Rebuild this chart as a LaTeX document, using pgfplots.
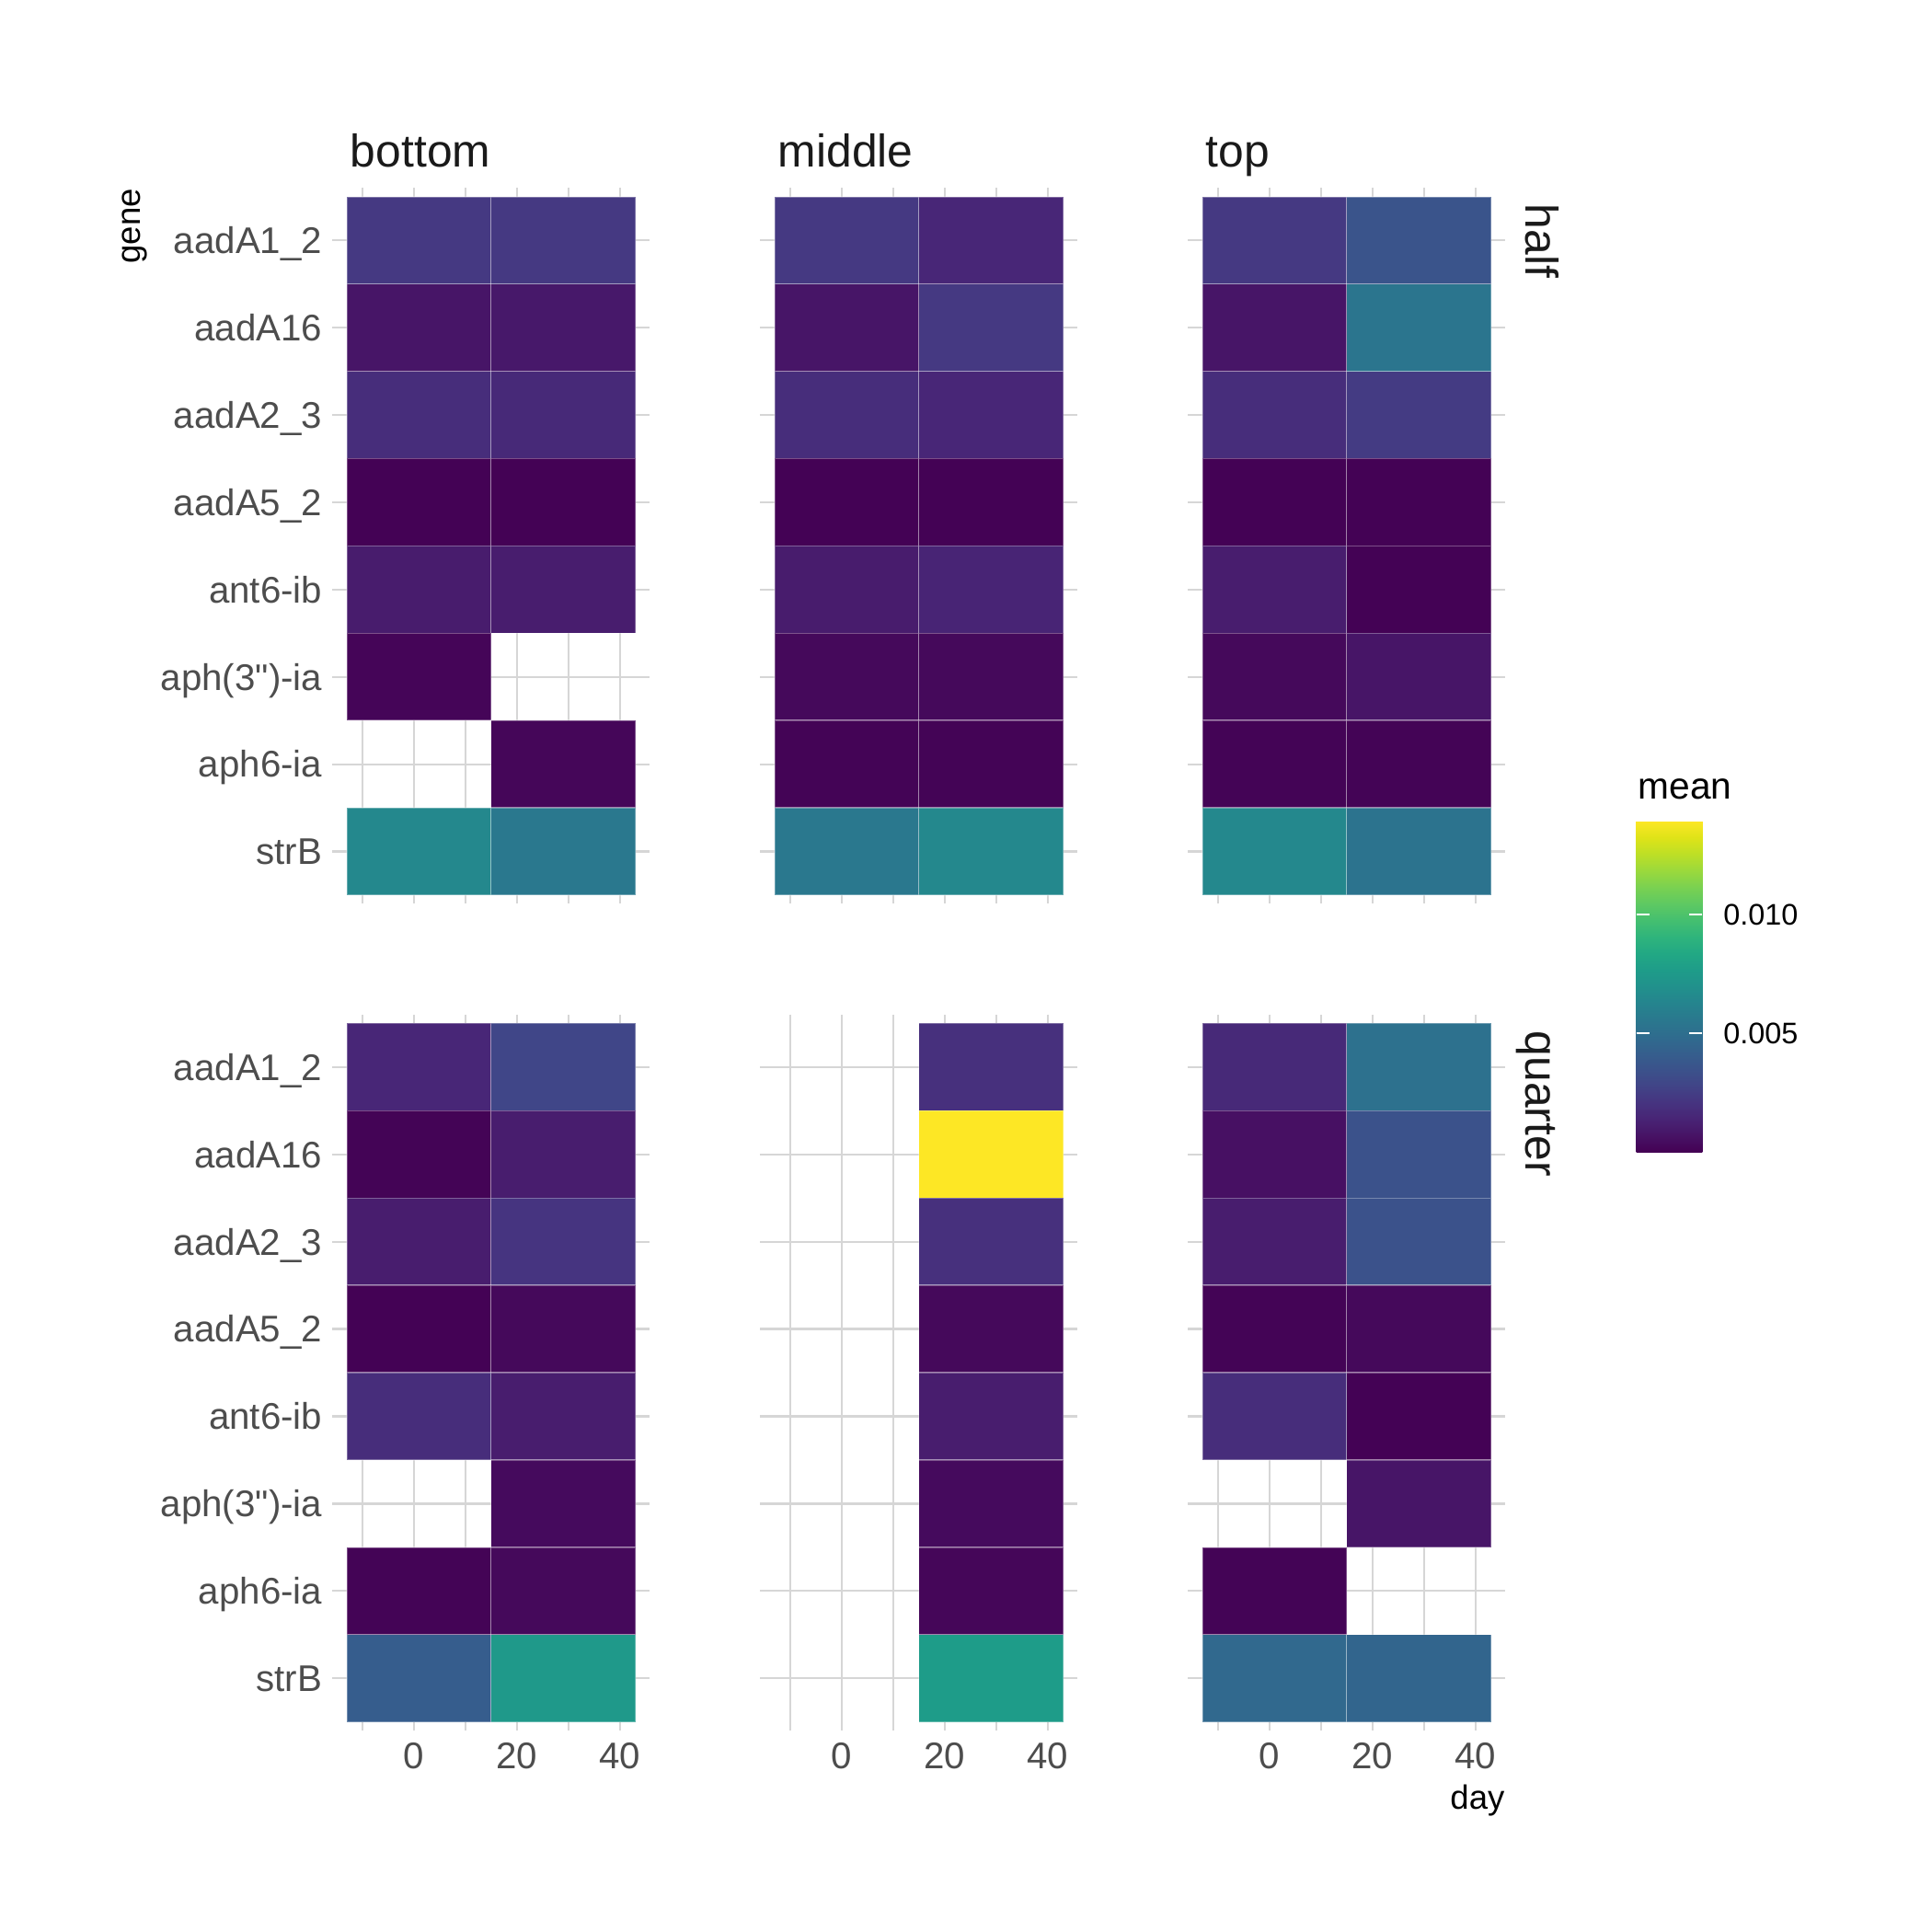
\documentclass[border=0pt]{standalone}
\usepackage{pgfplots}
\pgfplotsset{compat=1.18}
\usepackage{pgfplotstable}
\usepackage{fontspec}
\setmainfont{Liberation Sans}[Ligatures=TeXOff]
\definecolor{gridc}{RGB}{214,214,214}
\definecolor{tickc}{RGB}{77,77,77}
\definecolor{stripc}{RGB}{26,26,26}

\pgfplotsset{colormap={vir}{rgb255=(68,1,84) rgb255=(71,19,101) rgb255=(72,36,117) rgb255=(70,52,128) rgb255=(65,68,135) rgb255=(59,82,139) rgb255=(53,95,141) rgb255=(47,108,142) rgb255=(42,120,142) rgb255=(37,132,142) rgb255=(33,145,140) rgb255=(30,156,137) rgb255=(34,168,132) rgb255=(47,180,124) rgb255=(68,191,112) rgb255=(94,201,98) rgb255=(122,209,81) rgb255=(155,217,60) rgb255=(189,223,38) rgb255=(223,227,24) rgb255=(253,231,37)}}

\pgfdeclareplotmark{tile}{\pgfpathrectangle{\pgfpoint{-18.889pt}{-11.431pt}}{\pgfpoint{37.777pt}{22.862pt}}\pgfusepathqfillstroke}

% gene: 1 aadA1_2, 2 aadA16, 3 aadA2_3, 4 aadA5_2, 5 ant6-ib, 6 aph(3")-ia, 7 aph6-ia, 8 strB
\pgfplotstableread{
day gene mean
1 1 0.0023
29 1 0.0023
1 2 0.0008
29 2 0.0009
1 3 0.0018
29 3 0.0016
1 4 0.00005
29 4 0.00005
1 5 0.00105
29 5 0.0011
1 6 0.00015
29 7 0.0002
1 8 0.0065
29 8 0.0056
}\tabHB
\pgfplotstableread{
day gene mean
1 1 0.0023
29 1 0.0015
1 2 0.0008
29 2 0.0023
1 3 0.0018
29 3 0.0015
1 4 0.00005
29 4 0.00005
1 5 0.00105
29 5 0.0014
1 6 0.0003
29 6 0.0003
1 7 0.0001
29 7 0.0001
1 8 0.0056
29 8 0.0065
}\tabHM
\pgfplotstableread{
day gene mean
1 1 0.0023
29 1 0.0036
1 2 0.0008
29 2 0.0054
1 3 0.0018
29 3 0.0024
1 4 0.00005
29 4 0.00005
1 5 0.0011
29 5 0.00005
1 6 0.0003
29 6 0.0008
1 7 0.0001
29 7 0.0001
1 8 0.0065
29 8 0.0053
}\tabHT
\pgfplotstableread{
day gene mean
1 1 0.0015
29 1 0.0029
1 2 0.0001
29 2 0.0011
1 3 0.0011
29 3 0.0021
1 4 0.00005
29 4 0.0003
1 5 0.0018
29 5 0.0011
29 6 0.00035
1 7 0.0001
29 7 0.0003
1 8 0.0041
29 8 0.0075
}\tabQB
\pgfplotstableread{
day gene mean
29 1 0.0019
29 2 0.01395
29 3 0.0019
29 4 0.0003
29 5 0.0011
29 6 0.00035
29 7 0.0002
29 8 0.0077
}\tabQM
\pgfplotstableread{
day gene mean
1 1 0.0016
29 1 0.0052
1 2 0.0006
29 2 0.0035
1 3 0.0011
29 3 0.0035
1 4 0.0001
29 4 0.0003
1 5 0.0018
29 5 0.00005
29 6 0.0008
1 7 0.0001
1 8 0.0047
29 8 0.0045
}\tabQT

\pgfplotsset{
  panel/.style={
    scale only axis, width=83.11pt, height=187.47pt,
    anchor=south west,
    xmin=-15.8, xmax=45.8, ymin=0.4, ymax=8.6, y dir=reverse,
    xtick={0,20,40}, minor xtick={-10,10,30}, ytick={1,...,8},
    xmajorgrids, xminorgrids, ymajorgrids,
    major grid style={color=gridc, line width=0.55pt},
    minor grid style={color=gridc, line width=0.45pt},
    axis line style={draw=none},
    major tick length=0pt, minor tick length=0pt,
    colormap name=vir, point meta min=0, point meta max=0.01395,
    xticklabels={}, yticklabels={},
    tick label style={font=\fontsize{9.7}{11.6}\selectfont, text=tickc},
    yticklabel style={anchor=east, inner sep=0pt, xshift=-2.45pt, text height=0.73em, text depth=0.04em},
    xticklabel style={anchor=north, inner sep=0pt, yshift=-3.1pt},
  },
  tiles/.style={scatter, only marks, mark=tile, point meta=\thisrow{mean},
    scatter/use mapped color={draw=white, draw opacity=0.3, fill=mapped color},
    line width=0.35pt},
  genes/.style={yticklabels={aadA1\_2,aadA16,aadA2\_3,aadA5\_2,ant6-ib,aph(3")-ia,aph6-ia,strB}},
  days/.style={xticklabels={0,20,40}},
}

\begin{document}
\begin{tikzpicture}
\path[use as bounding box] (0,0) rectangle (505.89pt,505.89pt);

\begin{axis}[panel, genes, at={(87.01pt,269.21pt)}]
\addplot[tiles] table[x=day, y=gene] {\tabHB};
\end{axis}
\begin{axis}[panel, at={(199.03pt,269.21pt)}]
\addplot[tiles] table[x=day, y=gene] {\tabHM};
\end{axis}
\begin{axis}[panel, at={(311.05pt,269.21pt)}]
\addplot[tiles] table[x=day, y=gene] {\tabHT};
\end{axis}
\begin{axis}[panel, genes, days, at={(87.01pt,52.73pt)}]
\addplot[tiles] table[x=day, y=gene] {\tabQB};
\end{axis}
\begin{axis}[panel, days, at={(199.03pt,52.73pt)}]
\addplot[tiles] table[x=day, y=gene] {\tabQM};
\end{axis}
\begin{axis}[panel, days, at={(311.05pt,52.73pt)}]
\addplot[tiles] table[x=day, y=gene] {\tabQT};
\end{axis}

% colour bar
\begin{axis}[at={(419.95pt,204.21pt)}, anchor=south west, scale only axis,
  width=17.25pt, height=86.72pt, hide axis, xmin=0, xmax=1, ymin=0, ymax=1,
  colormap name=vir, point meta min=0, point meta max=0.01395,
  colorbar, colorbar/width=17.25pt,
  colorbar style={at={(parent axis.south west)}, anchor=south west,
    scale only axis, width=17.25pt, height=86.72pt,
    ytick={0.005,0.01}, yticklabels={0.005,0.010}, scaled y ticks=false,
    yticklabel pos=right, ytick pos=both,
    tick align=inside, major tick length=3.37pt,
    ytick style={draw=white, line width=0.5pt},
    axis line style={draw=none},
    yticklabel style={font=\fontsize{7.8}{9.4}\selectfont, text=black, inner sep=0pt, xshift=5.33pt, anchor=west},
  }]
\addplot[draw=none] coordinates {(0.5,0.5)};
\end{axis}

\begin{scope}[every node/.style={inner sep=0pt}]
\node[anchor=base west, font=\fontsize{12}{14}\selectfont, text=stripc] at (91.57pt,462.05pt) {bottom};
\node[anchor=base west, font=\fontsize{12}{14}\selectfont, text=stripc] at (203.59pt,462.05pt) {middle};
\node[anchor=base west, font=\fontsize{12}{14}\selectfont, text=stripc] at (315.60pt,462.05pt) {top};
\node[anchor=base west, rotate=-90, font=\fontsize{12}{14}\selectfont, text=stripc] at (399.41pt,452.65pt) {half};
\node[anchor=base west, rotate=-90, font=\fontsize{12}{14}\selectfont, text=stripc] at (399.41pt,236.08pt) {quarter};
\node[anchor=base east, rotate=90, font=\fontsize{8.8}{10.5}\selectfont] at (36.69pt,456.67pt) {gene};
\node[anchor=base east, font=\fontsize{8.8}{10.5}\selectfont] at (394.16pt,32.11pt) {day};
\node[anchor=base west, font=\fontsize{9.8}{11.7}\selectfont] at (428.80pt,296.72pt) {mean};
\end{scope}
\end{tikzpicture}
\end{document}
